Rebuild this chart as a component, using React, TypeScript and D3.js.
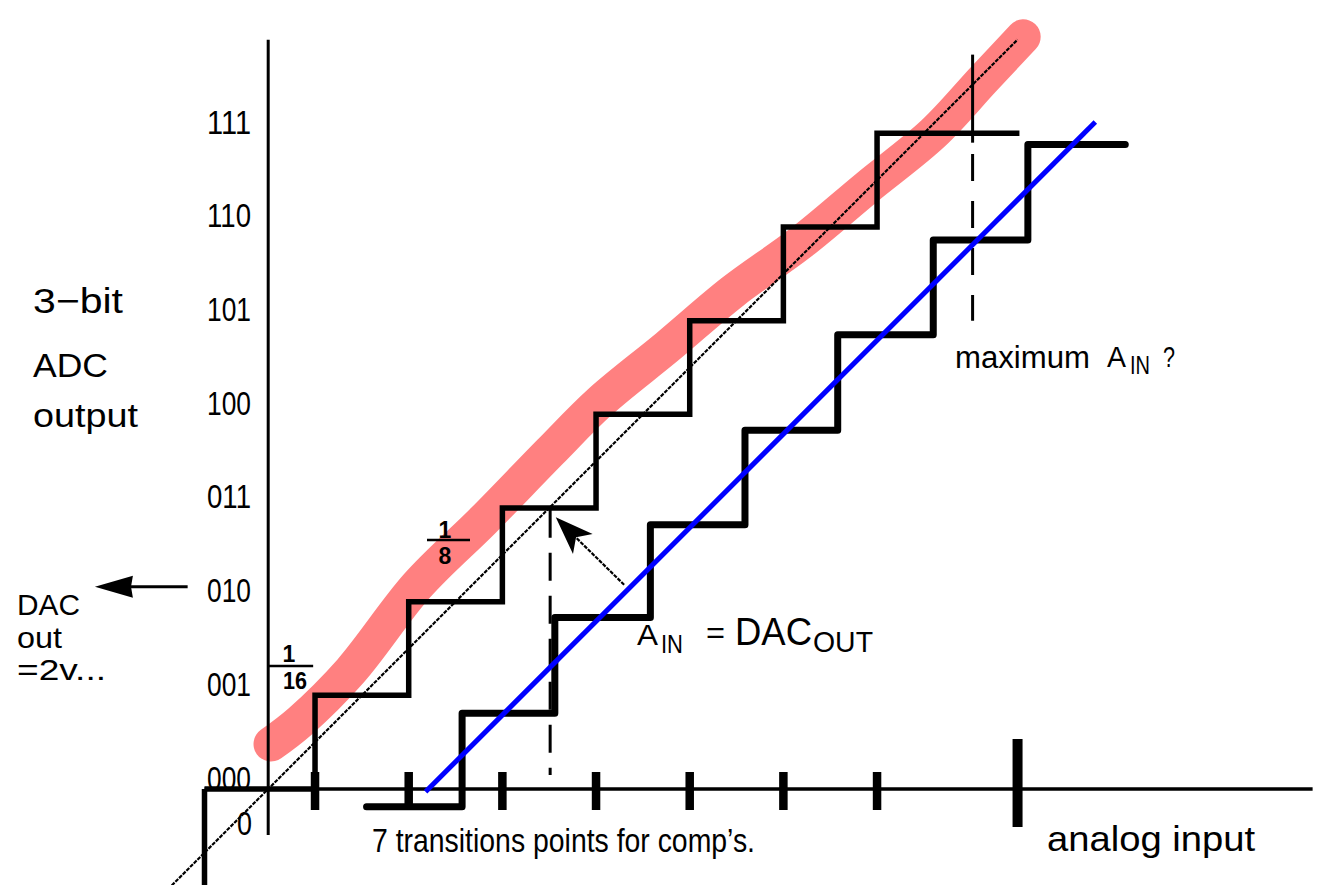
import React from "react";
import * as d3 from "d3";

// ---- data (domain units: 1 = one LSB) ----
const codes = ["000", "001", "010", "011", "100", "101", "110", "111"];
const codeLevels = [0, 1, 2, 3, 4, 5, 6, 7];
const idealTransitions = [0.5, 1.5, 2.5, 3.5, 4.5, 5.5, 6.5];
const idealStart = -0.68;
const idealEnd = 8.02;
const idealTail = -1.03;
const shiftedTransitions = [2.07, 3.06, 4.08, 5.09, 6.08, 7.1, 8.11];
const shiftedLevels = [-0.19, 0.81, 1.83, 2.82, 3.83, 4.85, 5.86, 6.88];
const shiftedStart = 1.05;
const shiftedEnd = 9.15;
const smallTicks = [0.5, 1.5, 2.5, 3.5, 4.5, 5.5, 6.5];
const fullScaleTick = 8;
const blueLine: [number, number][] = [[1.68, -0.03], [8.83, 7.12]];
const diagonal: [number, number][] = [[-1.03, -1.03], [8.0, 8.0]];
const redCurve: [number, number][] = [
  [0.03, 0.48], [0.34, 0.72], [0.88, 1.26], [1.59, 2.17], [2.3, 2.87],
  [3.01, 3.6], [3.54, 4.13], [4.26, 4.72], [4.96, 5.31], [5.68, 5.83],
  [6.39, 6.42], [7.1, 7.0], [7.63, 7.57], [8.06, 8.03],
];

const W = 1337;
const H = 885;
const x = d3.scaleLinear().domain([0, 8]).range([268.2, 268.2 + 8 * 93.67]);
const y = d3.scaleLinear().domain([0, 8]).range([789, 789 - 8 * 93.67]);
const line = d3.line<[number, number]>().x((d) => x(d[0])).y((d) => y(d[1]));
const stepLine = d3
  .line<[number, number]>()
  .x((d) => x(d[0]))
  .y((d) => y(d[1]))
  .curve(d3.curveStepAfter);
const redLine = d3
  .line<[number, number]>()
  .x((d) => x(d[0]))
  .y((d) => y(d[1]))
  .curve(d3.curveCatmullRom.alpha(0.5));

const FONT = "'Liberation Sans', Arial, Helvetica, sans-serif";

function T(props: {
  x: number; y: number; s: number; w?: number; anchor?: string; bold?: boolean; children: string;
}) {
  const { x: tx, y: ty, s, w, anchor, bold, children } = props;
  return (
    <text
      x={tx}
      y={ty}
      fontSize={s}
      fontFamily={FONT}
      fontWeight={bold ? "bold" : "normal"}
      textAnchor={anchor || "start"}
      textLength={w}
      lengthAdjust={w ? "spacingAndGlyphs" : undefined}
      fill="#000"
    >
      {children}
    </text>
  );
}

function arrowHead(tip: [number, number], tail: [number, number], len: number, half: number, notch: number) {
  const dx = tail[0] - tip[0];
  const dy = tail[1] - tip[1];
  const L = Math.hypot(dx, dy);
  const ux = dx / L, uy = dy / L;
  const bx = tip[0] + ux * len, by = tip[1] + uy * len;
  const px = -uy, py = ux;
  const nx = tip[0] + ux * len * notch, ny = tip[1] + uy * len * notch;
  return `M${tip[0]},${tip[1]}L${bx + px * half},${by + py * half}L${nx},${ny}L${bx - px * half},${by - py * half}Z`;
}

export default function App() {
  const stair1: [number, number][] = [[idealStart, 0]];
  idealTransitions.forEach((t, i) => stair1.push([t, codeLevels[i + 1]]));
  stair1.push([idealEnd, 7]);
  const stair1Path = line([[idealStart, idealTail], [idealStart, 0]])! + stepLine(stair1)!;

  const stair2: [number, number][] = [[shiftedStart, shiftedLevels[0]]];
  shiftedTransitions.forEach((t, i) => stair2.push([t, shiftedLevels[i + 1]]));
  stair2.push([shiftedEnd, shiftedLevels[7]]);

  // arrow A_IN = DAC_OUT
  const aTail: [number, number] = [x(3.8), y(2.18)];
  const aTip: [number, number] = [x(3.07), y(2.9)];
  // DAC out arrow
  const dTail: [number, number] = [x(-0.86), y(2.16)];
  const dTip: [number, number] = [x(-1.85), y(2.16)];

  return (
    <div style={{ position: "fixed", left: 0, top: 0, width: W, height: H, background: "#fff" }}>
      <svg width={W} height={H} viewBox={`0 0 ${W} ${H}`}>
        <rect width={W} height={H} fill="#fff" />
        {/* red highlight curve */}
        <path d={redLine(redCurve)!} fill="none" stroke="#ff8080" strokeWidth={35} strokeLinecap="round" strokeLinejoin="round" />
        {/* axes */}
        <line x1={x(0)} x2={x(0)} y1={y(8.0)} y2={y(-0.49)} stroke="#000" strokeWidth={3} />
        <line x1={x(idealStart)} x2={x(11.15)} y1={y(0)} y2={y(0)} stroke="#000" strokeWidth={3.5} />
        {/* ticks */}
        {smallTicks.map((t) => (
          <line key={t} x1={x(t)} x2={x(t)} y1={y(0) - 17} y2={y(0) + 21} stroke="#000" strokeWidth={8.5} />
        ))}
        <line x1={x(fullScaleTick)} x2={x(fullScaleTick)} y1={y(0) - 50} y2={y(0) + 38} stroke="#000" strokeWidth={10} />
        {/* diagonal ideal line */}
        <path d={line(diagonal)!} fill="none" stroke="#000" strokeWidth={2.2} strokeDasharray="4 1.2" />
        {/* dashed verticals */}
        <line x1={x(3.01)} x2={x(3.01)} y1={y(2.98)} y2={y(0.15)} stroke="#000" strokeWidth={3} strokeDasharray="28 15" />
        <line x1={x(7.52)} x2={x(7.52)} y1={y(7.84)} y2={y(6.9)} stroke="#000" strokeWidth={3} />
        <line x1={x(7.52)} x2={x(7.52)} y1={y(6.78)} y2={y(5.0)} stroke="#000" strokeWidth={3} strokeDasharray="27 20" />
        {/* staircases */}
        <path d={stair1Path} fill="none" stroke="#000" strokeWidth={5.5} strokeLinejoin="miter" />
        <path d={stepLine(stair2)!} fill="none" stroke="#000" strokeWidth={7} strokeLinejoin="round" strokeLinecap="round" />
        {/* blue line */}
        <path d={line(blueLine)!} fill="none" stroke="#0000ff" strokeWidth={5} />
        {/* arrow A_IN */}
        <line x1={aTail[0]} y1={aTail[1]} x2={aTip[0] + 20} y2={aTip[1] + 20} stroke="#000" strokeWidth={2.2} strokeDasharray="4 1.2" />
        <path d={arrowHead(aTip, aTail, 38, 14, 0.75)} fill="#000" />
        {/* DAC arrow */}
        <line x1={dTail[0]} y1={dTail[1]} x2={dTip[0] + 30} y2={dTail[1]} stroke="#000" strokeWidth={3} />
        <path d={arrowHead(dTip, dTail, 38, 11, 0.95)} fill="#000" />

        {/* y tick labels */}
        {codes.map((c, i) => (
          <T key={c} x={251} y={y(codeLevels[i]) + 0.5} s={33} w={44} anchor="end">{c}</T>
        ))}
        <T x={237} y={835} s={34} w={15}>0</T>

        {/* fractions */}
        <T x={289} y={662} s={23} anchor="middle" bold>1</T>
        <line x1={x(0)} x2={x(0.48)} y1={666} y2={666} stroke="#000" strokeWidth={2.5} />
        <T x={295} y={689} s={23} w={24} anchor="middle" bold>16</T>
        <T x={445} y={538} s={23} anchor="middle" bold>1</T>
        <line x1={427} x2={470} y1={540} y2={540} stroke="#000" strokeWidth={2.5} />
        <T x={445} y={564} s={23} anchor="middle" bold>8</T>

        {/* left titles */}
        <T x={33} y={313} s={35} w={90}>3−bit</T>
        <T x={33} y={377} s={33} w={75}>ADC</T>
        <T x={33} y={427} s={33} w={105}>output</T>
        <T x={17} y={615} s={30} w={63}>DAC</T>
        <T x={17} y={648} s={30} w={45}>out</T>
        <T x={17} y={680} s={30} w={89}>=2v...</T>

        {/* bottom */}
        <T x={372} y={852} s={34} w={383}>7 transitions  points for comp’s.</T>
        <T x={1047} y={851} s={35} w={208}>analog input</T>

        {/* maximum A_IN ? */}
        <T x={955} y={368} s={31} w={135}>maximum</T>
        <T x={1107} y={367} s={30} w={19}>A</T>
        <T x={1130} y={374} s={26} w={20}>IN</T>
        <T x={1163} y={367} s={30} w={12}>?</T>

        {/* A_IN = DAC_OUT */}
        <T x={637} y={645} s={30} w={21}>A</T>
        <T x={661} y={653} s={26} w={22}>IN</T>
        <T x={706} y={643} s={30} w={19}>=</T>
        <T x={735} y={645} s={38} w={77}>DAC</T>
        <T x={813} y={652} s={30} w={60}>OUT</T>
      </svg>
    </div>
  );
}
